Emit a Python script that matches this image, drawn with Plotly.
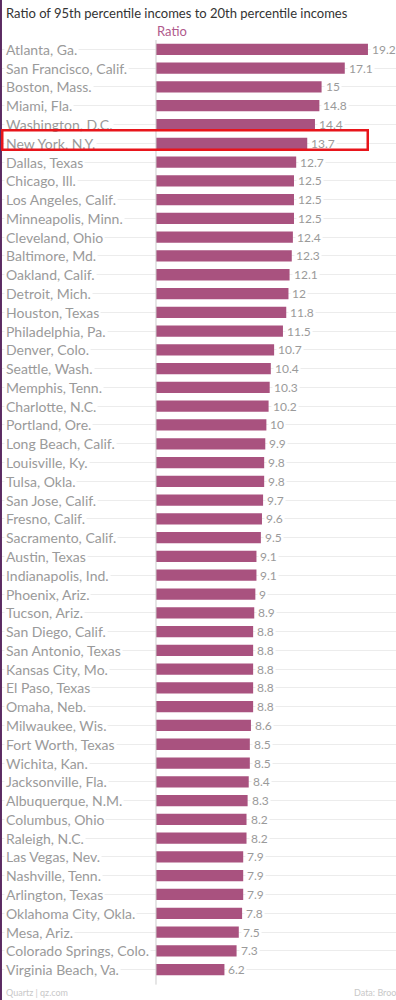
import plotly.graph_objects as go

cities = [
    "Atlanta, Ga.", "San Francisco, Calif.", "Boston, Mass.", "Miami, Fla.",
    "Washington, D.C.", "New York, N.Y.", "Dallas, Texas", "Chicago, Ill.",
    "Los Angeles, Calif.", "Minneapolis, Minn.", "Cleveland, Ohio", "Baltimore, Md.",
    "Oakland, Calif.", "Detroit, Mich.", "Houston, Texas", "Philadelphia, Pa.",
    "Denver, Colo.", "Seattle, Wash.", "Memphis, Tenn.", "Charlotte, N.C.",
    "Portland, Ore.", "Long Beach, Calif.", "Louisville, Ky.", "Tulsa, Okla.",
    "San Jose, Calif.", "Fresno, Calif.", "Sacramento, Calif.", "Austin, Texas",
    "Indianapolis, Ind.", "Phoenix, Ariz.", "Tucson, Ariz.", "San Diego, Calif.",
    "San Antonio, Texas", "Kansas City, Mo.", "El Paso, Texas", "Omaha, Neb.",
    "Milwaukee, Wis.", "Fort Worth, Texas", "Wichita, Kan.", "Jacksonville, Fla.",
    "Albuquerque, N.M.", "Columbus, Ohio", "Raleigh, N.C.", "Las Vegas, Nev.",
    "Nashville, Tenn.", "Arlington, Texas", "Oklahoma City, Okla.", "Mesa, Ariz.",
    "Colorado Springs, Colo.", "Virginia Beach, Va.",
]
ratios = [
    19.2, 17.1, 15, 14.8, 14.4, 13.7, 12.7, 12.5, 12.5, 12.5,
    12.4, 12.3, 12.1, 12, 11.8, 11.5, 10.7, 10.4, 10.3, 10.2,
    10, 9.9, 9.8, 9.8, 9.7, 9.6, 9.5, 9.1, 9.1, 9,
    8.9, 8.8, 8.8, 8.8, 8.8, 8.8, 8.6, 8.5, 8.5, 8.4,
    8.3, 8.2, 8.2, 7.9, 7.9, 7.9, 7.8, 7.5, 7.3, 6.2,
]
highlight = "New York, N.Y."
title = "Ratio of 95th percentile incomes to 20th percentile incomes"
series_name = "Ratio"
footer_left = "Quartz | qz.com"
footer_right = "Data: Brookings"

BAR = "#a9527f"
GREY = "#9a9a9a"
FONT = "Lato, 'Open Sans', sans-serif"

x_range = [-14.13, 21.74]
n = len(cities)

fig = go.Figure(go.Bar(
    x=ratios, y=cities, orientation="h",
    marker=dict(color=BAR, line=dict(width=0)),
    width=0.6, hoverinfo="skip",
))

annotations = []
for c, v in zip(cities, ratios):
    annotations.append(dict(
        x=0, xref="paper", y=c, yref="y", text=c, showarrow=False,
        xanchor="left", xshift=4, bgcolor="white", borderpad=1,
        font=dict(family=FONT, size=14, color=GREY),
    ))
    annotations.append(dict(
        x=v, xref="x", y=c, yref="y", text=f"{v:g}", showarrow=False,
        xanchor="left", xshift=2, bgcolor="white", borderpad=1,
        font=dict(family=FONT, size=12, color=GREY),
    ))

annotations += [
    dict(x=0, xref="paper", y=1.0288, yref="paper", text=title, showarrow=False,
         xanchor="left", yanchor="middle", xshift=4,
         font=dict(family=FONT, size=13, color="#333333")),
    dict(x=0, xref="x", y=1.0096, yref="paper", text=series_name, showarrow=False,
         xanchor="left", yanchor="middle", xshift=-1,
         font=dict(family=FONT, size=13, color="#b05a8c")),
    dict(x=0, xref="paper", y=-0.0149, yref="paper", text=footer_left, showarrow=False,
         xanchor="left", yanchor="middle", xshift=4,
         font=dict(family=FONT, size=9, color="#c8c8c8")),
    dict(x=352 / 396, xref="paper", y=-0.0149, yref="paper", text=footer_right,
         showarrow=False, xanchor="left", yanchor="middle",
         font=dict(family=FONT, size=9, color="#c8c8c8")),
]

# red highlight box drawn last so it sits above the label backgrounds
annotations.append(dict(
    x=0, xref="paper", y=highlight, yref="y", text="", showarrow=False,
    xanchor="left", yanchor="middle", xshift=1, yshift=3,
    width=363, height=17, bordercolor="#e8151b", borderwidth=2.5, borderpad=0,
))

shapes = [
    dict(type="line", xref="x", x0=0, x1=0, yref="paper", y0=-0.006, y1=1.0,
         line=dict(color="#cccccc", width=1), layer="above"),
    dict(type="rect", xref="paper", x0=0, x1=0.005, yref="paper", y0=-0.1, y1=1.1,
         fillcolor="#5b2a62", line=dict(width=0), layer="above"),
]

fig.update_layout(
    width=396, height=1000,
    margin=dict(l=0, r=0, t=40, b=21),
    paper_bgcolor="white", plot_bgcolor="white",
    showlegend=False,
    xaxis=dict(range=x_range, showgrid=False, zeroline=False, showticklabels=False,
               fixedrange=True),
    yaxis=dict(range=[n - 0.5, -0.5], showgrid=True, gridcolor="#ececec", gridwidth=1,
               showticklabels=False, zeroline=False, fixedrange=True),
    annotations=annotations,
    shapes=shapes,
)

fig.write_html(
    "out.html",
    config={"displayModeBar": False},
    post_script="document.body.style.margin='0';document.body.style.overflow='hidden';",
)
